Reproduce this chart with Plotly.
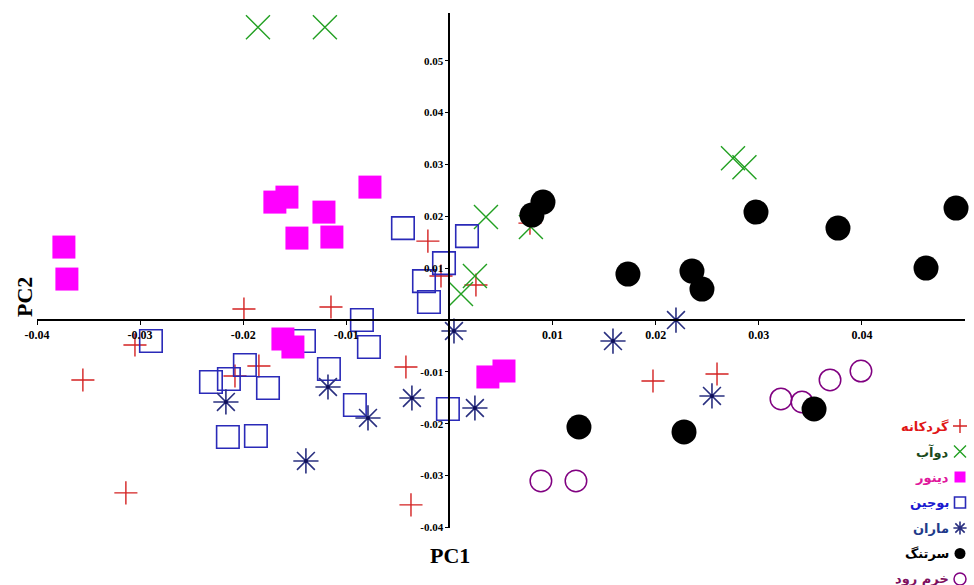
import plotly.graph_objects as go

# ---------------- data ----------------
gerdkaneh_x = [-0.01993, -0.01149, -0.0305, -0.03555, -0.03138, -0.0208, -0.01848, -0.00209,
               -0.00082, 0.00257, 0.00781, -0.00422, -0.00373, 0.01974, 0.02595]
gerdkaneh_y = [0.00212, 0.0025, -0.00482, -0.01156, -0.03333, -0.01079, -0.00886, 0.01522,
               0.00848, 0.00674, 0.01869, -0.00906, -0.03565, -0.01175, -0.0104]

doab_x = [-0.01857, -0.01208, 0.00354, 0.00247, 0.00112, 0.0079, 0.0275, 0.02861]
doab_y = [0.05645, 0.05645, 0.01985, 0.00848, 0.005, 0.01792, 0.03121, 0.02948]

boujin_x = [-0.02895, -0.02313, -0.02139, -0.01984, -0.0176, -0.02149, -0.01877, -0.01411, -0.01169,
            -0.00849, -0.00781, -0.00917, -0.00015, -0.00451, 0.0017, -0.00053, -0.00247, -0.00199]
boujin_y = [-0.00405, -0.01195, -0.01137, -0.00867, -0.0131, -0.02254, -0.02235, -0.00405, -0.00944,
            0.0, -0.0052, -0.01638, -0.01715, 0.01773, 0.01618, 0.01098, 0.00751, 0.00347]

maran_x = [-0.02168, -0.01392, -0.01178, -0.0079, -0.00364, 0.00247, 0.00044, 0.01586, 0.02197, 0.02546]
maran_y = [-0.0158, -0.02717, -0.01291, -0.01888, -0.01503, -0.01696, -0.00212, -0.00405, 0.0, -0.01464]

dinour_x = [-0.03739, -0.0371, -0.01693, -0.01576, -0.01479, -0.01217, -0.0114, -0.00771,
            -0.01615, -0.01518, 0.00373, 0.00529]
dinour_y = [0.01407, 0.0079, 0.02274, 0.0237, 0.0158, 0.02081, 0.016, 0.02563,
            -0.00366, -0.0052, -0.01098, -0.00983]

khorram_x = [0.00887, 0.01227, 0.03215, 0.03419, 0.03691, 0.03991]
khorram_y = [-0.03102, -0.03102, -0.01522, -0.0158, -0.01156, -0.00983]

sartang_x = [0.00907, 0.008, 0.01256, 0.01731, 0.02352, 0.02449, 0.02973, 0.03768, 0.04622,
             0.04913, 0.02275, 0.03536]
sartang_y = [0.02274, 0.02023, -0.02062, 0.00886, 0.00944, 0.00597, 0.02081, 0.01773, 0.01002,
             0.02158, -0.02158, -0.01715]

x_tickvals = [-0.04, -0.03, -0.02, -0.01, 0.01, 0.02, 0.03, 0.04]
x_ticktext = ["-0.04", "-0.03", "-0.02", "-0.01", "0.01", "0.02", "0.03", "0.04"]
y_tickvals = [0.05, 0.04, 0.03, 0.02, 0.01, -0.01, -0.02, -0.03, -0.04]
y_ticktext = ["0.05", "0.04", "0.03", "0.02", "0.01", "-0.01", "-0.02", "-0.03", "-0.04"]

legend_names = ["گردکانه", "دوآب", "دینور", "بوجین", "ماران", "سرتنگ", "خرم رود"]
x_title = "PC1"
y_title = "PC2"

# ---------------- styles ----------------
W, H = 974, 585
X_RANGE = [-0.04, 0.05]
Y_RANGE = [-0.0401, 0.0592]
PLOT_L, PLOT_R, PLOT_T, PLOT_B = 37, 965, 13, 528

series = [
    dict(i=0, x=gerdkaneh_x, y=gerdkaneh_y, symbol="cross-thin-open", size=16.5, color="#d42222", lw=1.4, lsize=10),
    dict(i=1, x=doab_x, y=doab_y, symbol="x-thin-open", size=24, color="#22a022", lw=1.4, lsize=12),
    dict(i=3, x=boujin_x, y=boujin_y, symbol="square-open", size=22.5, color="#2a2ab8", lw=1.6, lsize=11),
    dict(i=4, x=maran_x, y=maran_y, symbol="asterisk-open", size=21, color="#2a3080", lw=1.6, lsize=11),
    dict(i=2, x=dinour_x, y=dinour_y, symbol="square", size=23, color="#ff00ff", lw=0, lsize=11),
    dict(i=6, x=khorram_x, y=khorram_y, symbol="circle-open", size=21.5, color="#800080", lw=1.5, lsize=12),
    dict(i=5, x=sartang_x, y=sartang_y, symbol="circle", size=25, color="#000000", lw=0, lsize=11),
]
legend_text_colors = ["#e01818", "#1c4a1c", "#e0189c", "#1a1ad0", "#203a8a", "#000000", "#801060"]

fig = go.Figure()

for s in series:
    fig.add_trace(go.Scatter(
        x=s["x"], y=s["y"], mode="markers", name=legend_names[s["i"]], showlegend=False,
        marker=dict(symbol=s["symbol"], size=s["size"], color=s["color"],
                    line=dict(width=s["lw"], color=s["color"])),
        cliponaxis=False,
    ))
    if s["symbol"] == "asterisk-open":
        fig.add_trace(go.Scatter(x=s["x"], y=s["y"], mode="markers", showlegend=False,
                                 marker=dict(symbol="circle", size=4, color="#10105a"),
                                 cliponaxis=False))

# manual legend (marker right of text) in a pixel-coordinate overlay subplot
LEG_MX, LEG_TX, LEG_Y0, LEG_DY = 960, 951, 426, 25.5
by_index = {s["i"]: s for s in series}
for k, name in enumerate(legend_names):
    s = by_index[k]
    yy = LEG_Y0 + k * LEG_DY
    fig.add_trace(go.Scatter(
        x=[LEG_MX], y=[yy], xaxis="x2", yaxis="y2", mode="markers", showlegend=False,
        marker=dict(symbol=s["symbol"], size=s["lsize"], color=s["color"],
                    line=dict(width=max(s["lw"], 1.2) if s["lw"] else 0, color=s["color"])),
        cliponaxis=False, hoverinfo="skip",
    ))
    fig.add_annotation(x=LEG_TX, y=yy, xref="x2", yref="y2", text="<b>%s</b>" % name,
                       showarrow=False, xanchor="right", yanchor="middle",
                       font=dict(family="DejaVu Sans", size=13, color=legend_text_colors[k]))

x_dom = [PLOT_L / W, PLOT_R / W]
y_dom = [1 - PLOT_B / H, 1 - PLOT_T / H]
zero_y_frac = y_dom[0] + (0 - Y_RANGE[0]) / (Y_RANGE[1] - Y_RANGE[0]) * (y_dom[1] - y_dom[0])
zero_x_frac = x_dom[0] + (0 - X_RANGE[0]) / (X_RANGE[1] - X_RANGE[0]) * (x_dom[1] - x_dom[0])

fig.update_layout(
    width=W, height=H, template="none",
    paper_bgcolor="white", plot_bgcolor="rgba(0,0,0,0)",
    margin=dict(l=0, r=0, t=0, b=0, pad=0),
    showlegend=False,
    xaxis=dict(domain=x_dom, range=X_RANGE, anchor="free", position=zero_y_frac,
               showgrid=False, zeroline=False, showline=True, linecolor="black", linewidth=2,
               ticks="outside", ticklen=4, tickwidth=1, tickcolor="black",
               tickvals=x_tickvals, ticktext=["<b>%s</b>" % t for t in x_ticktext],
               tickfont=dict(family="Liberation Serif", size=12, color="black"), automargin=False),
    yaxis=dict(domain=y_dom, range=Y_RANGE, anchor="free", position=zero_x_frac,
               showgrid=False, zeroline=False, showline=True, linecolor="black", linewidth=2,
               ticks="outside", ticklen=3, tickwidth=1, tickcolor="black",
               tickvals=y_tickvals, ticktext=["<b>%s</b>" % t for t in y_ticktext],
               tickfont=dict(family="Liberation Serif", size=11, color="black"), automargin=False),
    xaxis2=dict(domain=[0, 1], range=[0, W], visible=False, anchor="y2", fixedrange=True),
    yaxis2=dict(domain=[0, 1], range=[H, 0], visible=False, anchor="x2", fixedrange=True),
)

# axis titles placed in the pixel overlay
fig.add_annotation(x=450, y=555, xref="x2", yref="y2", text="<b>%s</b>" % x_title, showarrow=False,
                   font=dict(family="Liberation Serif", size=22, color="black"),
                   xanchor="center", yanchor="middle")
fig.add_annotation(x=24, y=297, xref="x2", yref="y2", text="<b>%s</b>" % y_title, showarrow=False,
                   textangle=-90, font=dict(family="Liberation Serif", size=22, color="black"),
                   xanchor="center", yanchor="middle")

fig.write_html("out.html", config={"displayModeBar": False},
               post_script="document.body.style.margin='0';")
